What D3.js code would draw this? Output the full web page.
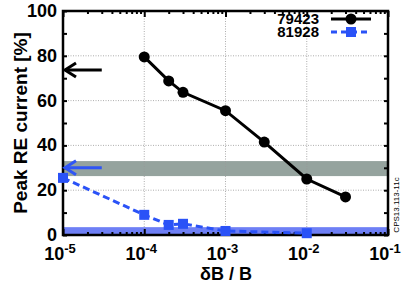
<!DOCTYPE html>
<html>
<head>
<meta charset="utf-8">
<script src="https://cdn.jsdelivr.net/npm/d3@7"></script>
<style>
body { margin: 0; background: #fff; }
text { font-family: "Liberation Sans", Arial, sans-serif; }
</style>
</head>
<body>
<svg width="407" height="289"></svg>
<script>
var seriesNames = ['79423', '81928'];
var x79423 = [1e-4, 2e-4, 3e-4, 1e-3, 3e-3, 1e-2, 3e-2];
var y79423 = [79.5, 68.8, 63.7, 55.5, 41.5, 25, 17];
var x81928 = [1e-5, 1e-4, 2e-4, 3e-4, 1e-3, 1e-2];
var y81928 = [25.5, 9, 4.5, 5, 1.8, 0.8];
var grayBand = [26.3, 33];
var blueBand = [0, 3.5];
var arrowBlack = 73.7;
var arrowBlue = 30;
var xTicks = [1e-5, 1e-4, 1e-3, 1e-2, 1e-1];
var yTicks = [0, 20, 40, 60, 80, 100];

function main() {
	var svg = d3.select('svg');
	var pl = 63, pr = 388, pt = 11, pb = 235;

	var x = d3.scaleLog().domain([1e-5, 1e-1]).range([pl, pr]);
	var y = d3.scaleLinear().domain([0, 100]).range([pb, pt]);

	// bands
	svg.append('rect').attr('x', pl).attr('width', pr - pl)
		.attr('y', y(grayBand[1])).attr('height', y(grayBand[0]) - y(grayBand[1]))
		.attr('fill', '#95a39e');
	svg.append('rect').attr('x', pl).attr('width', pr - pl)
		.attr('y', y(blueBand[1])).attr('height', y(blueBand[0]) - y(blueBand[1]))
		.attr('fill', '#6e7ff5');

	// grid
	var grid = svg.append('g').attr('stroke', '#999').attr('stroke-width', 0.8).attr('stroke-dasharray', '1,1.5');
	xTicks.slice(1, -1).forEach(function(t){
		grid.append('line').attr('x1', x(t)).attr('x2', x(t)).attr('y1', pt).attr('y2', pb);
	});
	yTicks.slice(1, -1).forEach(function(t){
		grid.append('line').attr('x1', pl).attr('x2', pr).attr('y1', y(t)).attr('y2', y(t));
	});

	// minor ticks
	var minorX = [];
	for (var e = -5; e < -1; e++) for (var m = 2; m <= 9; m++) minorX.push(m * Math.pow(10, e));
	var axisG = svg.append('g');
	axisG.append('g').attr('transform', 'translate(0,' + pb + ')')
		.call(d3.axisTop(x).tickValues(minorX).tickSize(3).tickFormat(''));
	axisG.append('g').attr('transform', 'translate(0,' + pt + ')')
		.call(d3.axisBottom(x).tickValues(minorX).tickSize(3).tickFormat(''));
	axisG.append('g').attr('transform', 'translate(0,' + pb + ')')
		.call(d3.axisTop(x).tickValues(xTicks).tickSize(6).tickFormat(''));
	axisG.append('g').attr('transform', 'translate(0,' + pt + ')')
		.call(d3.axisBottom(x).tickValues(xTicks).tickSize(6).tickFormat(''));
	var yMinor = d3.range(0, 101, 10);
	axisG.append('g').attr('transform', 'translate(' + pl + ',0)')
		.call(d3.axisRight(y).tickValues(yMinor).tickSize(4).tickFormat(''));
	axisG.append('g').attr('transform', 'translate(' + pr + ',0)')
		.call(d3.axisLeft(y).tickValues(yMinor).tickSize(4).tickFormat(''));
	axisG.selectAll('.domain').remove();
	axisG.selectAll('line').attr('stroke', '#000').attr('stroke-width', 2);

	svg.append('rect').attr('x', pl).attr('y', pt).attr('width', pr - pl).attr('height', pb - pt)
		.attr('fill', 'none').attr('stroke', '#000').attr('stroke-width', 2.5);

	// tick labels
	svg.selectAll('.ylab').data(yTicks).enter().append('text')
		.attr('x', pl - 6).attr('y', function(d){ return y(d) + 6; })
		.attr('text-anchor', 'end').attr('font-size', 18).attr('font-weight', 'bold')
		.text(function(d){ return d; });
	var xl = svg.selectAll('.xlab').data(xTicks).enter().append('text')
		.attr('x', function(d){ return x(d) - 3; }).attr('y', 260)
		.attr('text-anchor', 'middle').attr('font-size', 18).attr('font-weight', 'bold');
	xl.append('tspan').text('10');
	xl.append('tspan').attr('dy', -7).attr('font-size', 13).text(function(d){ return Math.round(Math.log10(d)); });

	svg.append('text').attr('transform', 'translate(27,' + (pt + pb) / 2 + ') rotate(-90)')
		.attr('text-anchor', 'middle').attr('font-size', 19).attr('font-weight', 'bold')
		.text('Peak RE current [%]');
	svg.append('text').attr('x', 226).attr('y', 280).attr('text-anchor', 'middle')
		.attr('font-size', 18).attr('font-weight', 'bold')
		.text('\u03b4B / B');
	svg.append('text').attr('transform', 'translate(399,205) rotate(-90)')
		.attr('text-anchor', 'middle').attr('font-size', 8).text('CPS13.113-11c');

	// arrows
	function arrow(v, color) {
		var g = svg.append('g').attr('stroke', color).attr('stroke-width', 3).attr('fill', 'none');
		g.append('line').attr('x1', pl + 2).attr('x2', x(3e-5)).attr('y1', y(v)).attr('y2', y(v));
		g.append('path').attr('d', 'M' + (pl + 13) + ',' + (y(v) - 7) + 'L' + (pl + 2) + ',' + y(v) + 'L' + (pl + 13) + ',' + (y(v) + 7));
	}
	arrow(arrowBlack, '#000');
	arrow(arrowBlue, '#2f55f5');

	// series
	var line = d3.line().x(function(d){ return x(d[0]); }).y(function(d){ return y(d[1]); });
	var d1 = d3.zip(x79423, y79423), d2 = d3.zip(x81928, y81928);
	svg.append('path').datum(d2).attr('d', line).attr('fill', 'none')
		.attr('stroke', '#2a52f7').attr('stroke-width', 3).attr('stroke-dasharray', '7,4');
	svg.selectAll('.sq').data(d2).enter().append('rect')
		.attr('x', function(d){ return x(d[0]) - 5; }).attr('y', function(d){ return y(d[1]) - 5; })
		.attr('width', 10).attr('height', 10).attr('fill', '#2a52f7');
	svg.append('path').datum(d1).attr('d', line).attr('fill', 'none')
		.attr('stroke', '#000').attr('stroke-width', 3);
	svg.selectAll('.dot').data(d1).enter().append('circle')
		.attr('cx', function(d){ return x(d[0]); }).attr('cy', function(d){ return y(d[1]); })
		.attr('r', 5.5).attr('fill', '#000');

	// legend
	var leg = [[seriesNames[0], '#000', null, 'circle'], [seriesNames[1], '#2a52f7', '6,4', 'rect']];
	leg.forEach(function(l, i){
		var yy = 19 + i * 13;
		svg.append('text').attr('x', 319).attr('y', yy + 5).attr('text-anchor', 'end')
			.attr('font-size', 15).attr('font-weight', 'bold').text(l[0]);
		svg.append('line').attr('x1', 331).attr('x2', 371).attr('y1', yy).attr('y2', yy)
			.attr('stroke', l[1]).attr('stroke-width', 3).attr('stroke-dasharray', l[2]);
		if (l[3] == 'circle') svg.append('circle').attr('cx', 351).attr('cy', yy).attr('r', 5.5).attr('fill', l[1]);
		else svg.append('rect').attr('x', 346).attr('y', yy - 5).attr('width', 10).attr('height', 10).attr('fill', l[1]);
	});
}
main();
</script>
</body>
</html>
